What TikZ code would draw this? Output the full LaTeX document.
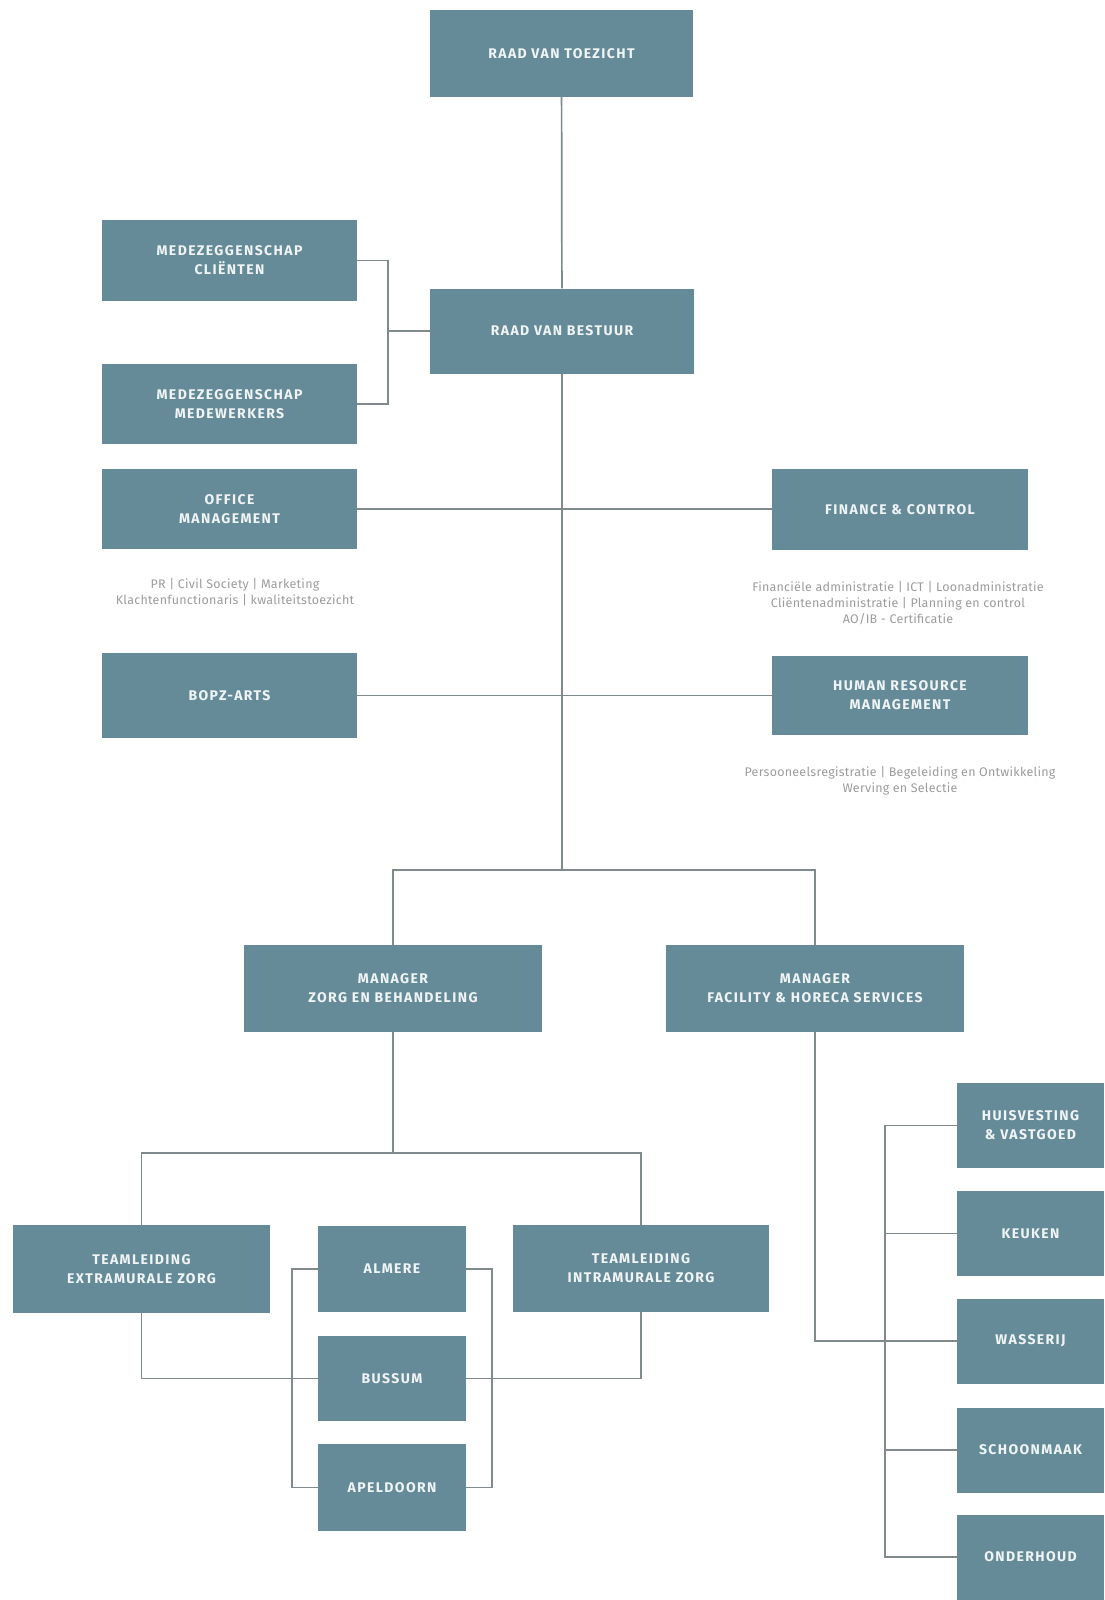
\documentclass[tikz,border=0pt]{standalone}
\usepackage{fontspec}
\setmainfont{Fira Sans}
\newfontfamily\boxfont[LetterSpace=10]{Fira Sans}
\newfontfamily\notefont[LetterSpace=2]{Fira Sans}
\usepackage{xcolor}
\usetikzlibrary{positioning}

\definecolor{boxblue}{RGB}{101,139,153}
\definecolor{boxtext}{RGB}{240,244,245}
\definecolor{linegrey}{RGB}{128,138,140}
\definecolor{notegrey}{RGB}{155,155,155}

\tikzset{
	orgbox/.style={fill=boxblue, text=boxtext, font=\boxfont\bfseries\fontsize{14}{19}\selectfont,
		align=center, inner sep=0pt, minimum height=85pt, minimum width=256pt},
	link/.style={draw=linegrey, line width=1.7pt},
	note/.style={text=notegrey, font=\notefont\fontsize{12.5}{16.3}\selectfont, align=center},
}

\begin{document}
\begin{tikzpicture}[x=1pt, y=-1pt]
	\useasboundingbox (0,0) rectangle (1104,1600);

	% top
	\node[orgbox, minimum width=263pt, minimum height=87pt] (rvt) at (561.5,53.5) {RAAD VAN TOEZICHT};
	\node[orgbox, minimum width=264pt] (rvb) at (562,331) {RAAD VAN BESTUUR};
	\node[orgbox, minimum width=255pt, minimum height=81pt] (mc) at (229.5,260.5) {MEDEZEGGENSCHAP\\CLIËNTEN};
	\node[orgbox, minimum width=255pt, minimum height=80pt] (mm) at (229.5,404) {MEDEZEGGENSCHAP\\MEDEWERKERS};

	% staff
	\node[orgbox, minimum width=255pt, minimum height=80pt] (om) at (229.5,509) {OFFICE\\MANAGEMENT};
	\node[orgbox, minimum height=81pt] (fc) at (900,509.5) {FINANCE \& CONTROL};
	\node[orgbox, minimum width=255pt] (bo) at (229.5,695.5) {BOPZ-ARTS};
	\node[orgbox, minimum height=79pt] (hr) at (900,695.5) {HUMAN RESOURCE\\MANAGEMENT};

	\node[note] (omnote) at (235,592) {PR | Civil Society | Marketing\\Klachtenfunctionaris | kwaliteitstoezicht};
	\node[note] (fcnote) at (898,603) {Financiële administratie | ICT | Loonadministratie\\Cliëntenadministratie | Planning en control\\AO/IB - Certificatie};
	\node[note] (hrnote) at (900,781) {Persooneelsregistratie | Begeleiding en Ontwikkeling\\Werving en Selectie};

	% managers
	\node[orgbox, minimum width=298pt, minimum height=87pt] (mz) at (393,988.5) {MANAGER\\ZORG EN BEHANDELING};
	\node[orgbox, minimum width=298pt, minimum height=87pt] (mf) at (815,988.5) {MANAGER\\FACILITY \& HORECA SERVICES};

	% zorg
	\node[orgbox, minimum width=257pt, minimum height=88pt] (te) at (141.5,1269) {TEAMLEIDING\\EXTRAMURALE ZORG};
	\node[orgbox, minimum height=87pt] (ti) at (641,1268.5) {TEAMLEIDING\\INTRAMURALE ZORG};
	\node[orgbox, minimum width=148pt, minimum height=86pt] (al) at (392,1269) {ALMERE};
	\node[orgbox, minimum width=148pt] (bu) at (392,1378.5) {BUSSUM};
	\node[orgbox, minimum width=148pt, minimum height=87pt] (ap) at (392,1487.5) {APELDOORN};

	% facility
	\foreach \n/\y/\t in {hv/1125.5/{HUISVESTING\\\& VASTGOED}, ke/1233.5/KEUKEN, wa/1341/WASSERIJ, sc/1450/SCHOONMAAK, oh/1557/ONDERHOUD} {
		\node[orgbox, minimum width=147pt] (\n) at (1030.5,\y) {\t};
	};

	% connectors
	\coordinate (mbr) at (388,331);
	\coordinate (split) at (562,870);
	\coordinate (zsplit) at (393,1153);
	\coordinate (lbr) at (292,1378.5);
	\coordinate (rbr) at (492,1378.5);
	\coordinate (fbr) at (885,1341);

	\draw[link] (rvt) -- (rvb);
	\draw[link] (mc.east) -| (mbr) |- (mm.east);
	\draw[link] (mbr) -- (rvb.west);
	\draw[link] (rvb.south) -- (split);
	\draw[link] (om.east) -- (om.east -| fc.west);
	\draw[link] (bo.east) -- (hr.west);
	\draw[link] (mz.north) |- (split) -| (mf.north);

	\draw[link] (mz.south) -- (zsplit);
	\draw[link] (te.north) |- (zsplit) -| (ti.north);
	\draw[link] (te.south) |- (bu.west);
	\draw[link] (ti.south) |- (bu.east);
	\draw[link] (al.west) -| (lbr) |- (ap.west);
	\draw[link] (al.east) -| (rbr) |- (ap.east);

	\draw[link] (mf.south) |- (wa.west);
	\draw[link] (hv.west) -| (fbr) |- (oh.west);
	\foreach \n in {ke, sc} {
		\draw[link] (\n.west) -- (\n.west -| fbr);
	};
\end{tikzpicture}
\end{document}
